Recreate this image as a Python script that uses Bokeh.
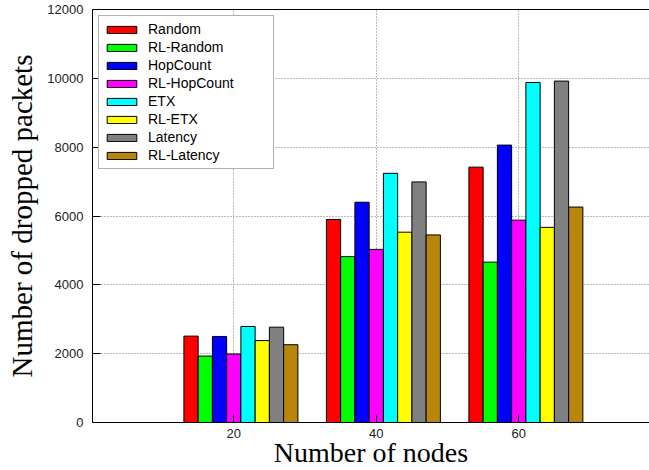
from bokeh.plotting import figure
from bokeh.models import (Range1d, FixedTicker, Legend, LegendItem,
                          ColumnDataSource, LinearAxis)
from bokeh.transform import dodge
from bokeh.embed import file_html
from bokeh.resources import INLINE

# ---- data -------------------------------------------------------------
nodes = [20, 40, 60]
series_names = ["Random", "RL-Random", "HopCount", "RL-HopCount",
                "ETX", "RL-ETX", "Latency", "RL-Latency"]
random_vals      = [2510, 5900, 7420]
rl_random_vals   = [1930, 4820, 4660]
hopcount_vals    = [2500, 6400, 8060]
rl_hopcount_vals = [1990, 5030, 5880]
etx_vals         = [2790, 7240, 9880]
rl_etx_vals      = [2380, 5530, 5670]
latency_vals     = [2770, 6990, 9920]
rl_latency_vals  = [2260, 5450, 6260]
y_ticks = [0, 2000, 4000, 6000, 8000, 10000, 12000]

series_values = [random_vals, rl_random_vals, hopcount_vals, rl_hopcount_vals,
                 etx_vals, rl_etx_vals, latency_vals, rl_latency_vals]
colors = ["#ff0000", "#00ff00", "#0000ff", "#ff00ff",
          "#00ffff", "#ffff00", "#808080", "#b8860b"]

data = {"nodes": nodes}
for name, vals in zip(series_names, series_values):
    data[name] = vals
src = ColumnDataSource(data)

# ---- figure -----------------------------------------------------------
p = figure(width=649, height=470,
           x_range=Range1d(0.17, 78.35), y_range=Range1d(0, 12000),
           output_backend="svg", toolbar_location=None,
           min_border_left=92, min_border_right=0,
           min_border_top=9, min_border_bottom=48)
p.outline_line_color = None
p.background_fill_color = "white"

bar_w = 2.0
renderers = []
for i, (name, col) in enumerate(zip(series_names, colors)):
    off = (i - 3) * bar_w
    r = p.vbar(x=dodge("nodes", off, range=p.x_range), top=name, width=bar_w,
               bottom=0, source=src, fill_color=col, line_color="black",
               line_width=1)
    renderers.append(r)

# axes
xax = p.xaxis[0]
xax.ticker = FixedTicker(ticks=nodes)
yax = p.yaxis[0]
yax.ticker = FixedTicker(ticks=y_ticks)
for ax in (xax, yax):
    ax.major_tick_in = 8
    ax.major_tick_out = 0
    ax.minor_tick_line_color = None
    ax.axis_line_color = "black"
    ax.axis_line_width = 1
    ax.major_tick_line_color = "black"
    ax.major_label_text_font = "Liberation Sans"
    ax.major_label_text_font_size = "13px"
    ax.major_label_text_color = "#222222"
    ax.axis_label_text_font = "Liberation Serif"
    ax.axis_label_text_font_style = "normal"
    ax.axis_label_text_color = "black"

xax.axis_label = "Number of nodes"
xax.axis_label_text_font_size = "28px"
xax.major_label_standoff = 6
xax.axis_label_standoff = -4

yax.axis_label = "Number of dropped packets"
yax.axis_label_text_font_size = "29px"
yax.major_label_standoff = 9
yax.axis_label_standoff = 6

top_ax = LinearAxis(ticker=FixedTicker(ticks=[]), major_label_text_font_size="0px",
                    major_tick_in=0, major_tick_out=0, major_label_standoff=0,
                    minor_tick_line_color=None, axis_line_color="black")
p.add_layout(top_ax, "above")

# grid
p.xgrid.ticker = FixedTicker(ticks=nodes)
p.ygrid.ticker = FixedTicker(ticks=y_ticks)
for g in (p.xgrid[0], p.ygrid[0]):
    g.grid_line_color = "#777777"
    g.grid_line_dash = "1 2"
    g.grid_line_width = 1

# legend
items = [LegendItem(label=n, renderers=[r]) for n, r in zip(series_names, renderers)]
legend = Legend(items=items, location="top_left", margin=6, padding=4,
                glyph_width=37, glyph_height=9, label_height=18, spacing=0,
                label_standoff=8, label_width=121,
                label_text_font="Liberation Sans", label_text_font_size="14px",
                label_text_color="black",
                border_line_color="#666666", border_line_width=1,
                background_fill_color="white", background_fill_alpha=1)
p.add_layout(legend)

open("out.html", "w").write(file_html(p, INLINE))
